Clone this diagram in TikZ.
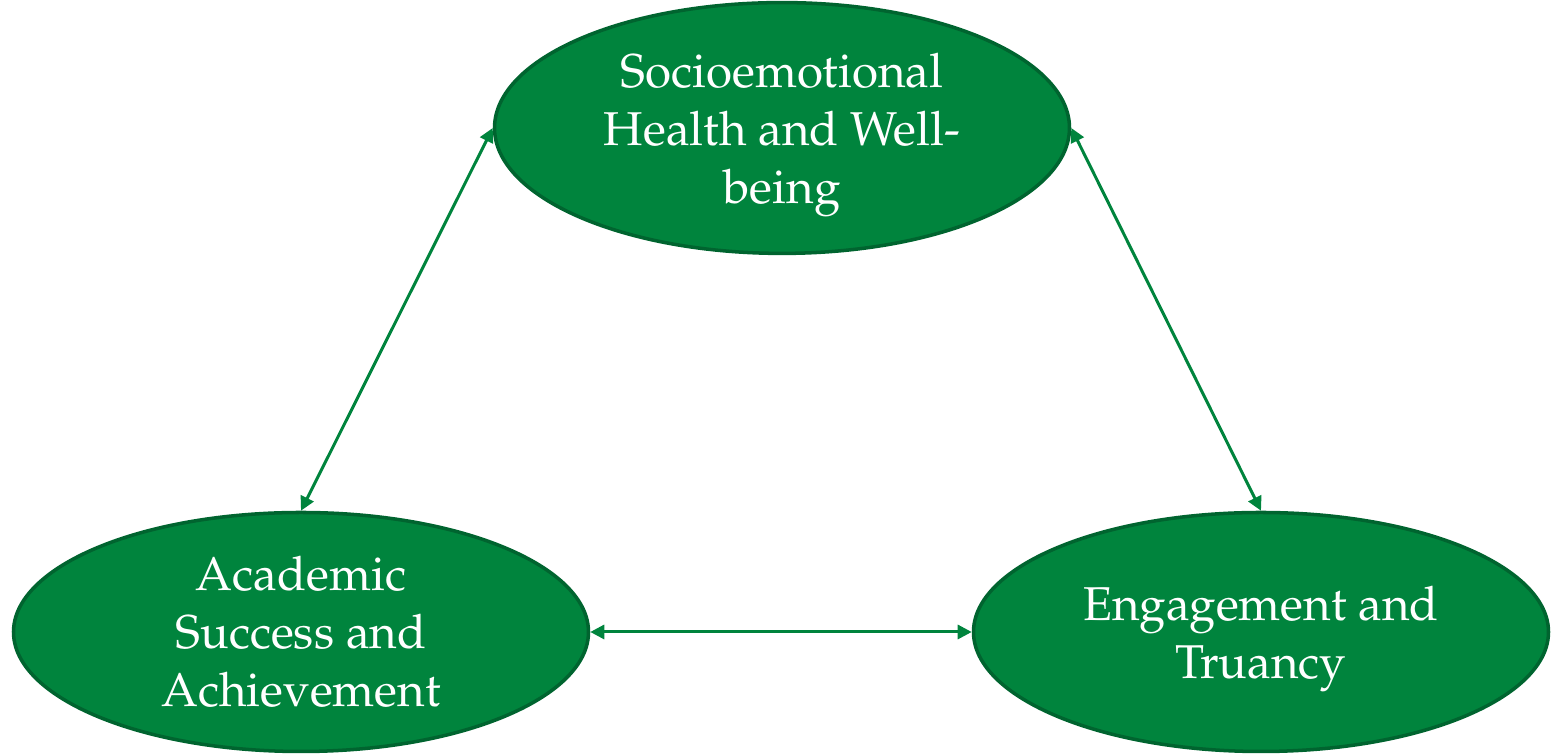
\documentclass[tikz,border=0pt]{standalone}
\usepackage[T1]{fontenc}
\usepackage{mathpazo}
\usetikzlibrary{shapes.geometric,arrows.meta}
\definecolor{leafgreen}{HTML}{00843D}
\definecolor{darkleaf}{HTML}{00642F}
\tikzset{
  area/.style={ellipse, draw=darkleaf, line width=2pt, fill=leafgreen,
    minimum width=11.5cm, minimum height=4.78cm, inner sep=0pt,
    text=white, align=center, font=\fontsize{27}{33}\selectfont},
  link/.style={draw=leafgreen, line width=1.7pt,
    {Triangle[length=8pt,width=8pt]}-{Triangle[length=8pt,width=8pt]}}
}

\begin{document}
\begin{tikzpicture}
        \useasboundingbox (0,0) rectangle (31.02,15.08);
        \node[area] (SH) at (15.64,12.52) {\\[-0.2cm]Socioemotional\\Health and Well-\\being};
        \node[area] (AS) at (6.02,2.44) {Academic\\Success and\\Achievement};
        \node[area] (ET) at (25.22,2.44) {\\[-0.2cm]Engagement and\\Truancy};
        \draw[link] (SH.west) -- (AS.north);
        \draw[link] (SH.east) -- (ET.north);
        \draw[link] (AS.east) -- (ET.west);
    \end{tikzpicture}
\end{document}
